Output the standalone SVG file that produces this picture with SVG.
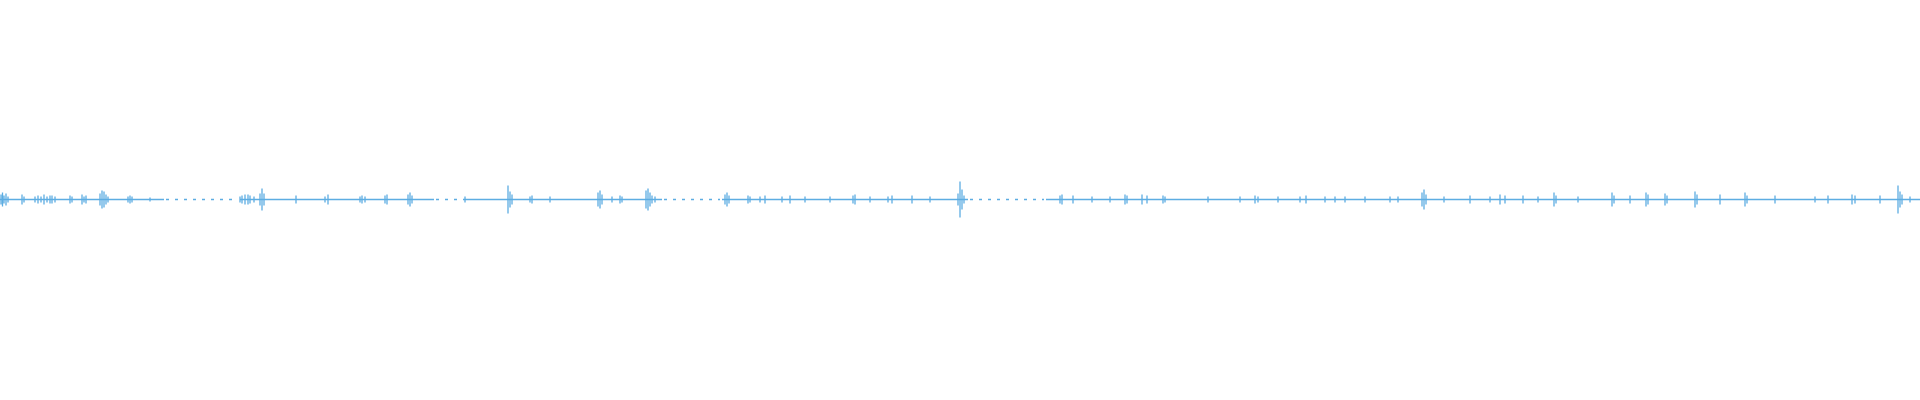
<svg xmlns="http://www.w3.org/2000/svg" width="1920" height="400" viewBox="0 0 1920 400">
<style>.w{stroke:#5DADE2;fill:none}.b{stroke-width:1.4}.d{stroke-width:1.4;stroke-dasharray:3 6}.s{stroke-width:1.3}</style>
<rect width="1920" height="400" fill="#fff"/>
<g id="waveform">
<path class="w b" d="M0 199.5H164M240 199.5H434M463 199.5H662M722 199.5H968M1046 199.5H1920"/>
<path class="w d" d="M166 199.5H238M436 199.5H462M664 199.5H720M970 199.5H1044"/>
<path class="w s" d="M1 194.5v10M2.5 192.5v14M4 195.5v8M6 193.5v12M8 196.5v6M22 194.5v10M24 196.5v6M35 196.5v6M38 195.5v8M41 196.5v6M44 194.5v10M47 196.5v6M50 195.5v8M52 195.5v8M55 196.5v6M70 195.5v8M72 196.5v6M82 194.5v10M84 196.5v6M86 195.5v8M100 193.5v12M102 190.5v18M104 191.5v16M106 194.5v10M108 196.5v6M128 196.5v6M130 195.5v8M132 196.5v6M150 197.5v4M240 196.5v6M242 195.5v8M245 194.5v10M248 194.5v10M250 195.5v8M254 196.5v6M260 193.5v12M262 188.5v22M264 193.5v12M296 195.5v8M325 196.5v6M328 194.5v10M360 196.5v6M362 195.5v8M365 196.5v6M385 195.5v8M387 194.5v10M408 194.5v10M410 192.5v14M412 195.5v8M465 196.5v6M508 185.5v28M510 191.5v16M512 194.5v10M530 196.5v6M532 195.5v8M550 196.5v6M598 192.5v14M600 190.5v18M602 194.5v10M612 196.5v6M620 195.5v8M622 196.5v6M646 190.5v18M648 188.5v22M650 192.5v14M652 195.5v8M655 196.5v6M725 194.5v10M727 192.5v14M729 195.5v8M748 195.5v8M750 196.5v6M760 196.5v6M765 195.5v8M782 196.5v6M790 195.5v8M805 196.5v6M830 196.5v6M853 195.5v8M855 194.5v10M870 196.5v6M888 196.5v6M892 195.5v8M912 195.5v8M930 196.5v6M958 193.5v12M960 181.5v36M962 189.5v20M964 195.5v8M1060 195.5v8M1062 194.5v10M1073 195.5v8M1092 196.5v6M1110 196.5v6M1125 194.5v10M1127 195.5v8M1142 194.5v10M1147 195.5v8M1163 195.5v8M1165 196.5v6M1208 196.5v6M1240 196.5v6M1255 195.5v8M1258 196.5v6M1278 196.5v6M1300 196.5v6M1306 195.5v8M1325 196.5v6M1335 196.5v6M1345 196.5v6M1365 196.5v6M1390 196.5v6M1398 196.5v6M1422 192.5v14M1424 189.5v20M1426 194.5v10M1444 196.5v6M1470 195.5v8M1490 196.5v6M1500 194.5v10M1505 195.5v8M1523 195.5v8M1538 196.5v6M1554 192.5v14M1556 195.5v8M1578 196.5v6M1612 192.5v14M1614 195.5v8M1630 195.5v8M1646 192.5v14M1648 194.5v10M1665 193.5v12M1667 195.5v8M1695 191.5v16M1697 194.5v10M1720 194.5v10M1745 192.5v14M1747 195.5v8M1775 195.5v8M1815 196.5v6M1828 195.5v8M1852 194.5v10M1855 195.5v8M1880 195.5v8M1898 185.5v28M1900 191.5v16M1902 194.5v10M1910 196.5v6"/>
</g>
<g id="connectors"/>
</svg>
